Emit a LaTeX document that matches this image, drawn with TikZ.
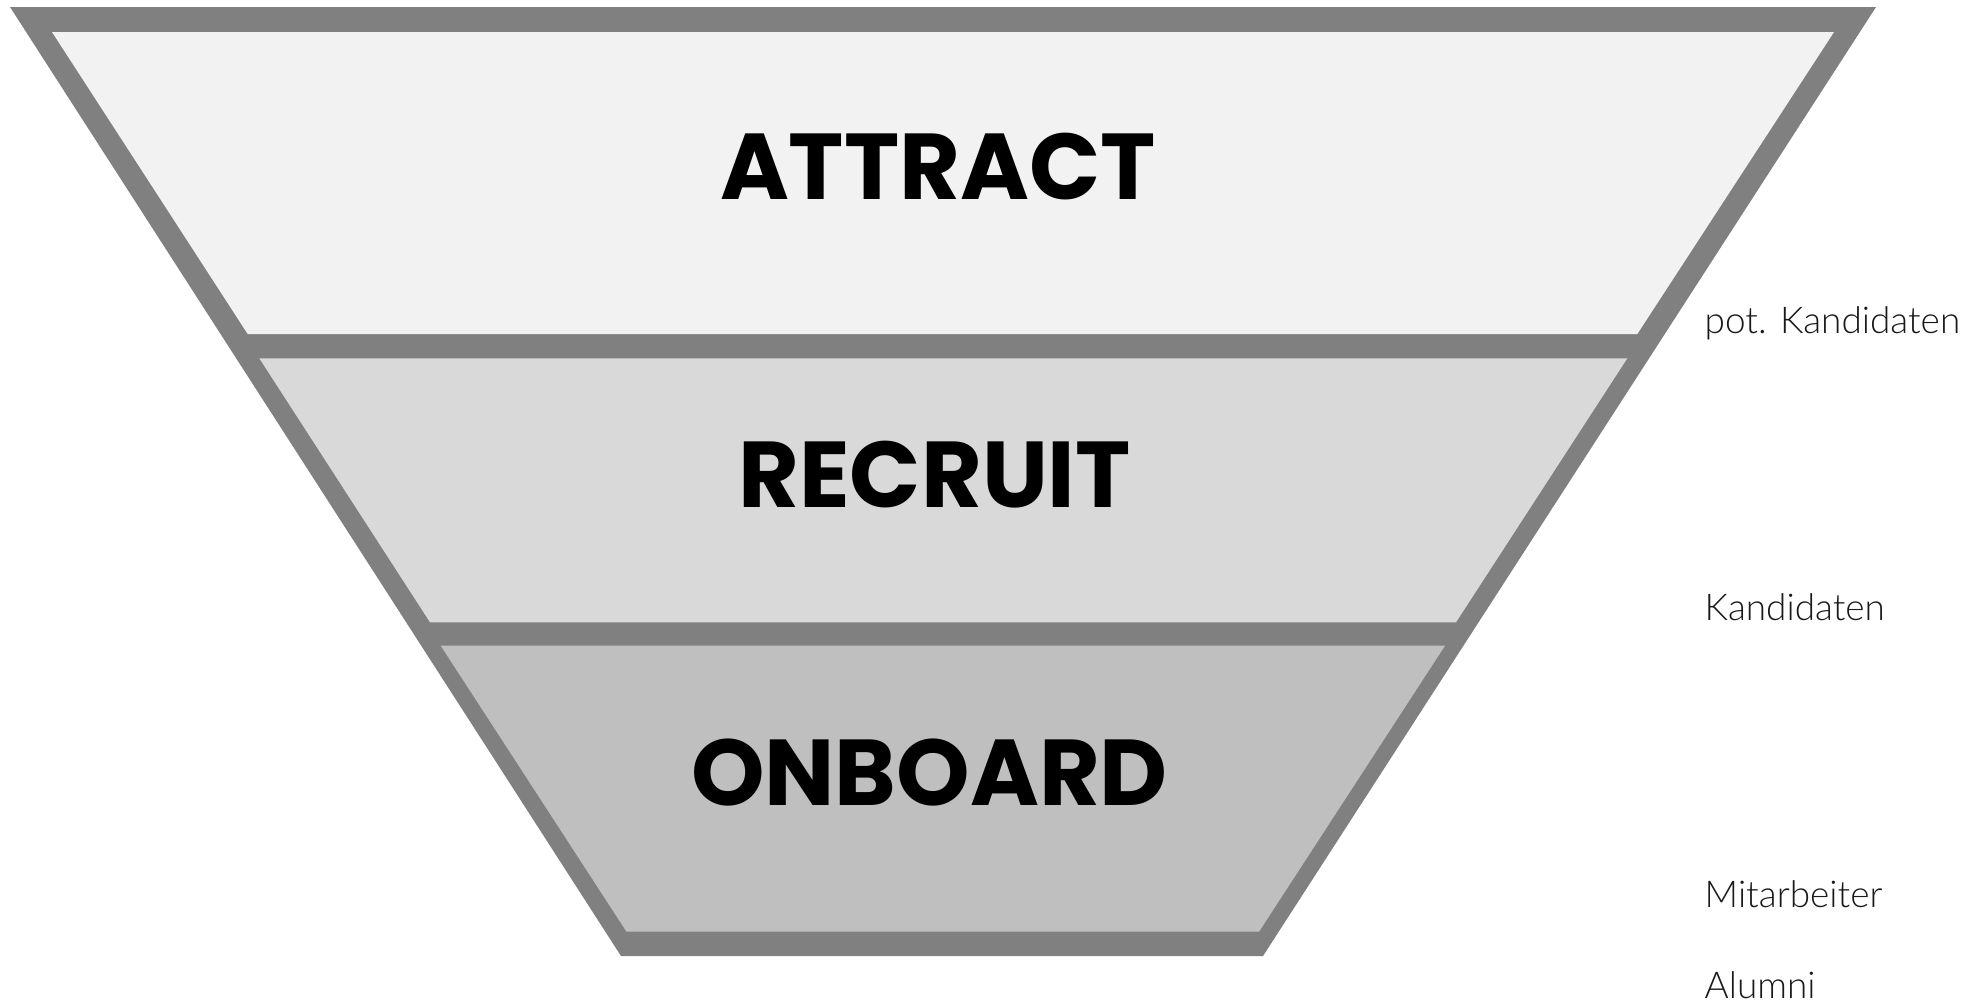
\documentclass[tikz,border=0pt]{standalone}
\usepackage{fontspec}
\newfontfamily\popfont{Poppins}
\newfontfamily\lblfont{Lato Light}
\definecolor{edgegray}{HTML}{808080}
\definecolor{fillA}{HTML}{F2F2F2}
\definecolor{fillR}{HTML}{D9D9D9}
\definecolor{fillO}{HTML}{BFBFBF}
\begin{document}
\begin{tikzpicture}[x=0.01cm,y=-0.01cm,
  stage/.style={font=\popfont\bfseries\fontsize{26.6}{30}\selectfont, anchor=base, inner sep=0pt, text=black},
  lbl/.style={font=\lblfont\fontsize{10.5}{13}\selectfont, anchor=base west, inner sep=0pt, text=black!90}]
\useasboundingbox (0,0) rectangle (1986,1006);
% funnel outline (gray body)
\fill[edgegray] (10,7) -- (1876,7) -- (1263,956) -- (621,956) -- cycle;
% funnel bands
\fill[fillA] (52,32) -- (1834,32) -- (1637.3,334) -- (247.7,334) -- cycle;
\fill[fillR] (259.3,358.3) -- (1627.3,358.3) -- (1456,622.3) -- (430,622.3) -- cycle;
\fill[fillO] (440.7,645.7) -- (1445,645.7) -- (1259,931.7) -- (626.5,931.7) -- cycle;
% stage titles
\node[stage] (attract) at (938,199) {ATTRACT};
\node[stage] (recruit) at (934.5,507) {RECRUIT};
\node[stage] (onboard) at (929.5,805) {ONBOARD};
% side labels
\node[lbl] (potk) at (1704,333) {pot. Kandidaten};
\node[lbl] (kand) at (1704,620) {Kandidaten};
\node[lbl] (mitarb) at (1704,907.5) {Mitarbeiter};
\node[lbl] (alumni) at (1704,998.5) {Alumni};
\end{tikzpicture}
\end{document}
